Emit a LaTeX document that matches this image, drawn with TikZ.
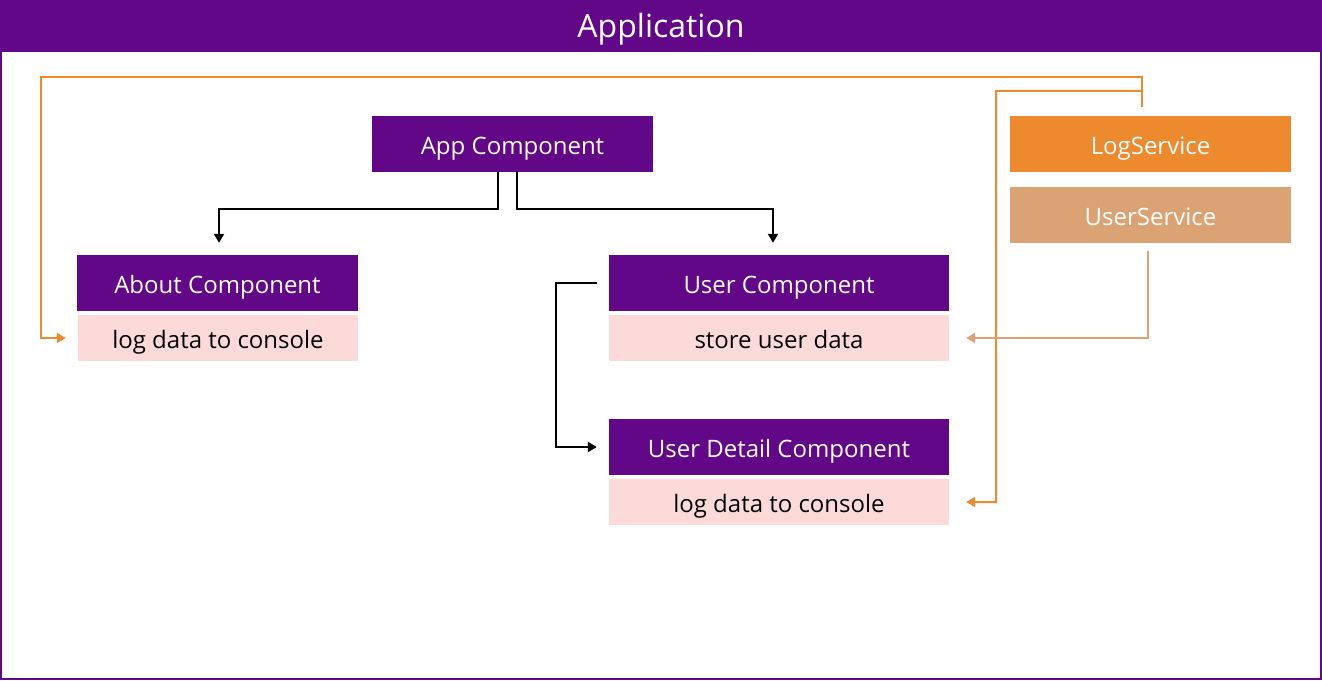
\documentclass[tikz,border=0pt]{standalone}
\usepackage{fontspec}
\setmainfont{Open Sans}
\usetikzlibrary{arrows.meta}
\definecolor{ppl}{HTML}{620788}
\definecolor{pinkbg}{HTML}{FDDADA}
\definecolor{orng}{HTML}{ED8A2D}
\definecolor{tan}{HTML}{DBA373}
\tikzset{
  lbl/.style={inner sep=0pt, text height=21pt, text depth=0pt, font=\fontsize{24}{28}\selectfont},
  comp/.style={lbl, fill=ppl, text=white, minimum width=#1, minimum height=56pt},
  comp/.default=281pt,
  task/.style={lbl, fill=pinkbg, text=black, minimum width=#1, minimum height=46pt},
  task/.default=340pt,
  svc/.style={lbl, fill=#1, text=white, minimum width=281pt, minimum height=56pt},
  blk/.style={draw=black, line width=2pt, -{Triangle[length=9pt,width=10pt]}},
  orl/.style={draw=#1, line width=2pt, -{Triangle[length=9pt,width=10pt]}},
}
\begin{document}
\begin{tikzpicture}[x=1pt,y=-1pt]
\useasboundingbox (0,0) rectangle (1322,680);
% frame
\fill[white] (0,0) rectangle (1322,680);
\draw[ppl, line width=2pt] (1,1) rectangle (1321,679);
\fill[ppl] (0,0) rectangle (1322,52);
\node[text=white, inner sep=0pt, text height=23pt, text depth=0pt, font=\fontsize{32}{36}\selectfont] (title) at (661,26) {Application};
% components
\node[comp] (app) at (512.5,144) {App Component};
\node[comp] (about) at (217.5,283) {About Component};
\node[task=280pt] (aboutlog) at (218,338) {log data to console};
\node[comp=340pt] (user) at (779,283) {User Component};
\node[task] (store) at (779,338) {store user data};
\node[comp=340pt] (udetail) at (779,447) {User Detail Component};
\node[task] (udlog) at (779,502) {log data to console};
\node[svc=orng] (logs) at (1150.5,144) {LogService};
\node[svc=tan] (users) at (1150.5,215) {UserService};
% black connectors
\draw[blk] ([xshift=-14.5pt]app.south) -- ++(0,37) -| ([xshift=1.5pt,yshift=12pt]about.north);
\draw[blk] ([xshift=4.5pt]app.south) -- ++(0,37) -| ([xshift=-6pt,yshift=12pt]user.north);
\draw[blk] ([xshift=-12pt]user.west) -- ++(-41,0) |- ([xshift=-12pt]udetail.west);
% service connectors
\coordinate (topL) at (41,77);
\coordinate (topR) at (996,91);
\draw[orl=orng] ([xshift=-8.5pt,yshift=9pt]logs.north) |- (topL) |- ([xshift=-12pt]aboutlog.west);
\draw[orl=orng] ([xshift=-8.5pt,yshift=25pt]logs.north) -- (topR) |- ([xshift=17pt]udlog.east);
\draw[orl=tan] ([xshift=-2.5pt,yshift=-8pt]users.south) |- ([xshift=17pt]store.east);
\end{tikzpicture}
\end{document}
